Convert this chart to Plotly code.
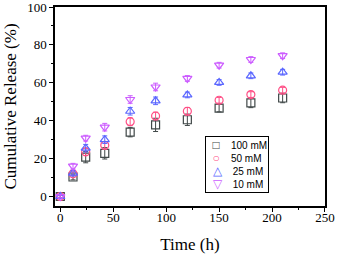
import plotly.graph_objects as go

time_h = [0, 12, 24, 42, 66, 90, 120, 150, 180, 210]
rel_100 = [0, 10.3, 20.8, 22.8, 34.0, 37.8, 40.5, 46.7, 49.4, 52.0]
rel_50 = [0, 12.0, 23.6, 27.0, 39.5, 42.5, 45.0, 50.8, 53.8, 56.1]
rel_25 = [0, 12.3, 25.5, 30.0, 45.0, 50.5, 53.6, 60.2, 63.7, 65.6]
rel_10 = [0, 16.0, 30.8, 36.6, 51.2, 57.8, 62.3, 69.3, 72.3, 74.3]
err_100 = [0.8, 1.5, 3.0, 3.0, 2.5, 3.5, 3.0, 2.0, 2.5, 2.5]
err_50 = [0.8, 1.0, 2.0, 2.0, 2.0, 2.0, 2.0, 1.5, 1.5, 1.5]
err_25 = [0.8, 1.5, 2.0, 2.0, 2.0, 2.0, 1.5, 1.5, 1.5, 1.5]
err_10 = [0.8, 1.5, 1.5, 2.0, 2.0, 2.0, 1.5, 1.5, 1.5, 1.5]
labels = ["100 mM", "50 mM", "25 mM", "10 mM"]
legend_glyphs = ["□", "○", "△", "▽"]

series = [
    (rel_100, err_100, "square-open", "#404848"),
    (rel_50, err_50, "circle-open", "#ff4f86"),
    (rel_25, err_25, "triangle-up-open", "#5a66ff"),
    (rel_10, err_10, "triangle-down-open", "#cc5cff"),
]

SERIF = "Liberation Serif, Times New Roman, serif"

fig = go.Figure()
for (vals, errs, sym, col), name in zip(series, labels):
    fig.add_trace(go.Scatter(
        x=time_h, y=vals, mode="markers", name=name, showlegend=False,
        marker=dict(symbol=sym, size=8, color=col, line=dict(width=1.2, color=col)),
        error_y=dict(type="data", array=errs, visible=True, color=col, thickness=1, width=2.5),
    ))

axis_common = dict(
    showline=True, linewidth=1.5, linecolor="black", mirror=True,
    ticks="outside", ticklen=4, tickwidth=1.2, tickcolor="black",
    showgrid=False, zeroline=False, automargin=False,
    ticklabeloverflow="allow",
    tickfont=dict(family=SERIF, size=13, color="black"),
)

fig.update_xaxes(
    range=[-5, 250.01], tickvals=[0, 50, 100, 150, 200, 250],
    minor=dict(dtick=25, ticks="outside", ticklen=2, tickcolor="black", tick0=0),
    ticklabelstandoff=-5,
    title=dict(text="Time (h)", font=dict(family=SERIF, size=17, color="black"), standoff=15),
    **axis_common,
)
fig.update_yaxes(
    range=[-5, 100.01], tickvals=[0, 20, 40, 60, 80, 100],
    minor=dict(dtick=10, ticks="outside", ticklen=2, tickcolor="black", tick0=0),
    title=dict(text="Cumulative Release (%)", font=dict(family=SERIF, size=17, color="black"), standoff=6),
    **axis_common,
)

legend_lines = []
for g, (vals, errs, sym, col), name in zip(legend_glyphs, series, labels):
    legend_lines.append(
        f"&nbsp;&nbsp;<span style='color:{col};font-size:12px'>{g}</span>&nbsp;&nbsp;&nbsp;&nbsp;{name}"
    )
fig.add_annotation(
    xref="paper", yref="paper", x=0.556, y=0.352, xanchor="left", yanchor="top",
    text="<br>".join(legend_lines), showarrow=False, align="left",
    font=dict(family="Liberation Sans, Arial, sans-serif", size=10, color="black"),
    bordercolor="black", borderwidth=1, borderpad=1, bgcolor="white",
)

fig.update_layout(
    width=337, height=254,
    margin=dict(l=55, r=12, t=7, b=48, autoexpand=False),
    paper_bgcolor="white", plot_bgcolor="white",
    showlegend=False,
)

fig.write_html("out.html", config={"displayModeBar": False},
               post_script="document.body.style.margin='0';")
